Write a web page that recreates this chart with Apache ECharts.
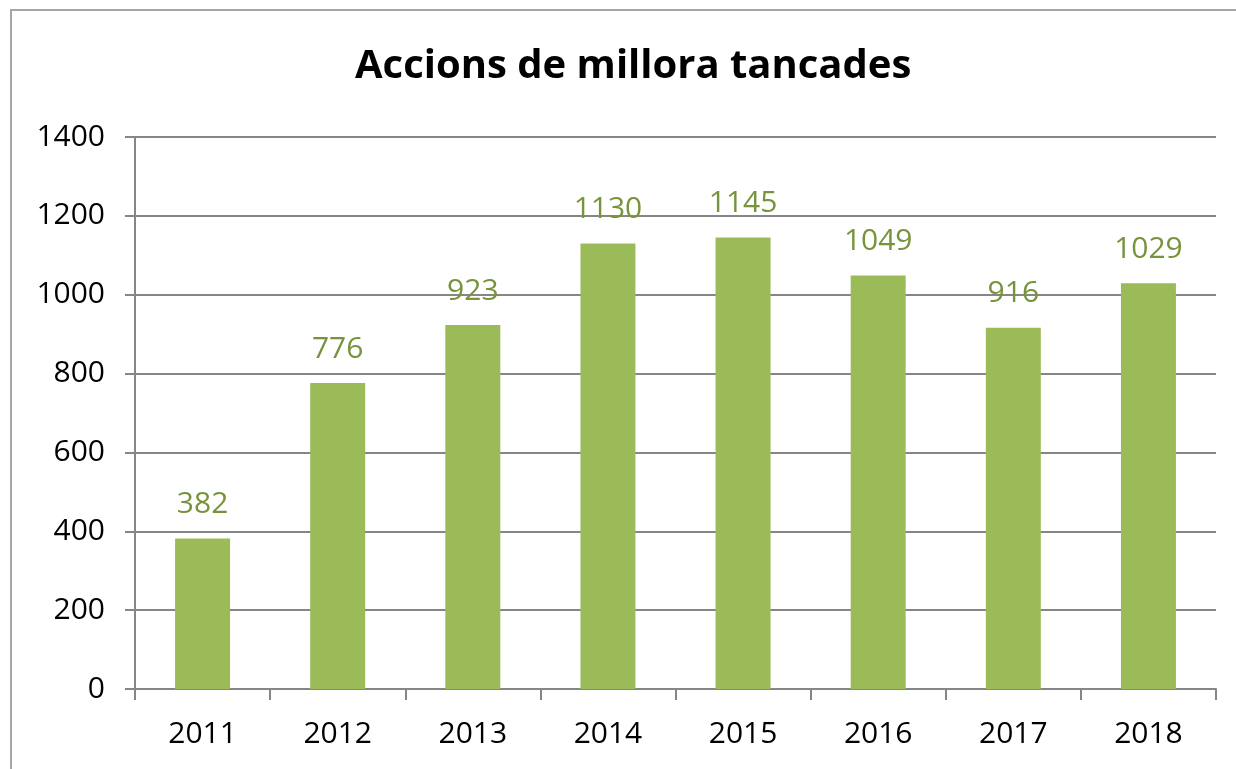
<!DOCTYPE html>
<html lang="ca">
<head>
    <meta charset="UTF-8">
    <title>Accions de millora tancades</title>
    <script src="https://cdn.jsdelivr.net/npm/echarts@6/dist/echarts.min.js"></script>
    <style>
        html, body { margin: 0; padding: 0; background: #fff; }
        #chart { width: 1236px; height: 769px; }
    </style>
</head>
<body>
    <div id="chart"></div>
    <script>
        // dades del gràfic
        var years = ['2011', '2012', '2013', '2014', '2015', '2016', '2017', '2018'];
        var accions = [382, 776, 923, 1130, 1145, 1049, 916, 1029];

        var myChart = echarts.init(document.getElementById('chart'));
        var font = '"Open Sans", "Noto Sans", sans-serif';

        var option = {
            animation: false,
            graphic: [{
                type: 'rect',
                shape: { x: 11, y: 10, width: 1240, height: 780 },
                style: { fill: 'none', stroke: '#a6a6a6', lineWidth: 2 }
            }],
            title: {
                text: 'Accions de millora tancades',
                left: 350,
                top: 42,
                textStyle: { fontFamily: font, fontSize: 40, fontWeight: 'bold', color: '#000' }
            },
            grid: { left: 135, right: 20, top: 137, bottom: 80 },
            xAxis: {
                type: 'category',
                data: years,
                axisLine: { lineStyle: { color: '#868686', width: 2 } },
                axisTick: { show: true, length: 11, lineStyle: { color: '#868686', width: 2 } },
                axisLabel: { fontFamily: font, fontSize: 30, color: '#000', margin: 30 }
            },
            yAxis: {
                type: 'value',
                min: 0,
                max: 1400,
                interval: 200,
                axisLine: { show: true, lineStyle: { color: '#868686', width: 2 } },
                axisTick: { show: true, length: 10, lineStyle: { color: '#868686', width: 2 } },
                splitLine: { lineStyle: { color: '#868686', width: 2 } },
                axisLabel: {
                    fontFamily: font, fontSize: 30, color: '#000', margin: 30,
                    formatter: function (v) { return String(v); }
                }
            },
            series: [{
                type: 'bar',
                data: accions,
                barWidth: 55,
                itemStyle: { color: '#9bbb59' },
                label: {
                    show: true,
                    position: 'top',
                    distance: 19,
                    fontFamily: font,
                    fontSize: 30,
                    color: '#77933c'
                }
            }]
        };

        myChart.setOption(option);
    </script>
</body>
</html>
